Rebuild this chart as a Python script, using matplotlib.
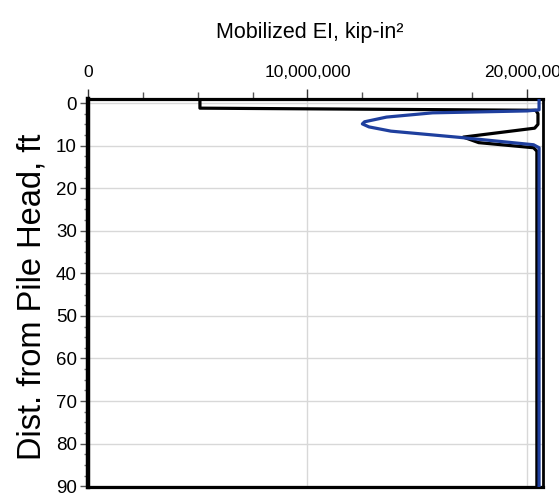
import matplotlib
matplotlib.use("Agg")
import matplotlib.pyplot as plt
from matplotlib.ticker import MultipleLocator, FuncFormatter

plt.rcParams['font.family'] = ['Liberation Sans', 'DejaVu Sans']

# Mobilized EI profiles (kip-in^2) versus depth below pile head (ft)
depth_black = [-1.0, 1.2, 1.7, 2.5, 5.0, 5.9, 8.0, 9.3, 10.5, 11.3, 90.2]
ei_black = [5.1e6, 5.1e6, 20.4e6, 20.5e6, 20.5e6, 20.35e6, 17.1e6, 17.8e6, 20.3e6, 20.45e6, 20.45e6]

depth_blue = [-1.0, 1.6, 1.85, 2.3, 3.3, 4.4, 4.9, 5.6, 6.6, 8.1, 9.8, 10.5, 90.2]
ei_blue = [20.55e6, 20.55e6, 20.0e6, 15.7e6, 13.6e6, 12.6e6, 12.5e6, 12.8e6, 13.8e6, 17.0e6, 20.3e6, 20.55e6, 20.55e6]

x_major = [0, 10_000_000, 20_000_000]
y_major = [0, 10, 20, 30, 40, 50, 60, 70, 80, 90]

fig = plt.figure(figsize=(5.59, 4.98), dpi=100)
ax = fig.add_axes([0.1574, 0.0221, 0.9714 - 0.1574, 0.8012 - 0.0221])

ax.plot(ei_black, depth_black, color='black', lw=2.3, solid_joinstyle='round', zorder=3)
ax.plot(ei_blue, depth_blue, color='#1f3f9e', lw=2.3, solid_joinstyle='round', zorder=4)

ax.set_xlim(0, 20.73e6)
ax.set_ylim(90.2, -0.95)

ax.xaxis.tick_top()
ax.xaxis.set_label_position('top')
ax.set_xticks(x_major)
ax.xaxis.set_minor_locator(MultipleLocator(2_500_000))
ax.xaxis.set_major_formatter(FuncFormatter(lambda v, p: f"{int(v):,}"))
ax.set_yticks(y_major)
ax.yaxis.set_minor_locator(MultipleLocator(2.5))

ax.tick_params(axis='x', which='major', length=7, width=1.0, labelsize=12.5, pad=7, colors='#333333', labelcolor='black')
ax.tick_params(axis='x', which='minor', length=5, width=1.0, colors='#555555')
ax.tick_params(axis='y', which='major', length=6, width=1.0, labelsize=13.5, pad=2, colors='#555555', labelcolor='black')
ax.tick_params(axis='y', which='minor', length=3, width=1.0, colors='#777777')

ax.grid(True, which='major', color='#d8d8d8', lw=1.0)
ax.set_axisbelow(True)

for side, w in (('left', 3.2), ('bottom', 2.3), ('top', 2.3), ('right', 2.0)):
    ax.spines[side].set_linewidth(w)
    ax.spines[side].set_color('black')

ax.set_xlabel('Mobilized EI, kip-in²', fontsize=15.5)
ax.xaxis.set_label_coords(0.487, 1.158)
ax.set_ylabel('Dist. from Pile Head, ft', fontsize=23.5)
ax.yaxis.set_label_coords(-0.088, 0.49)

for lbl in ax.get_xticklabels():
    lbl.set_clip_on(False)

fig.savefig('out.png', dpi=100)
